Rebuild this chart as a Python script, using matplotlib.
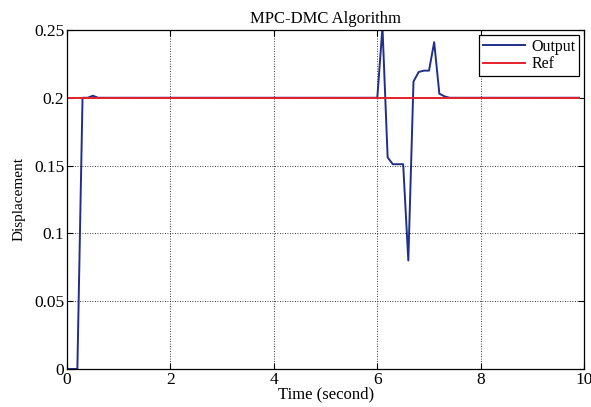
import numpy as np
import matplotlib
matplotlib.use("Agg")
import matplotlib.pyplot as plt

# step response of the MPC-DMC controller, with a disturbance around t = 6 s
t_out = [0.0, 0.2, 0.3, 0.4, 0.5, 0.6, 6.0, 6.1, 6.2, 6.3, 6.4, 6.5, 6.6,
         6.7, 6.8, 6.9, 7.0, 7.1, 7.2, 7.3, 7.4, 9.9]
y_out = [0.0, 0.0, 0.2, 0.2, 0.2015, 0.2, 0.2, 0.252, 0.156, 0.151, 0.151,
         0.151, 0.080, 0.212, 0.219, 0.220, 0.220, 0.241, 0.203, 0.201,
         0.2, 0.2]
t_ref = [0.0, 9.9]
y_ref = [0.2, 0.2]

x_ticks = [0, 2, 4, 6, 8, 10]
y_ticks = [0, 0.05, 0.1, 0.15, 0.2, 0.25]
y_tick_labels = ["0", "0.05", "0.1", "0.15", "0.2", "0.25"]

plt.rcParams["font.family"] = ["Liberation Serif", "DejaVu Serif"]

fig = plt.figure(figsize=(5.91, 4.07), dpi=100)
ax = fig.add_axes([0.1134, 0.0934, 0.875, 0.833])

ax.plot(t_out, y_out, color="#1f2f8a", linewidth=1.4, label="Output")
ax.plot(t_ref, y_ref, color="#e8202a", linewidth=1.4, label="Ref")

ax.set_xlim(0, 10)
ax.set_ylim(0, 0.25)
ax.set_xticks(x_ticks)
ax.set_yticks(y_ticks)
ax.set_yticklabels(y_tick_labels)
ax.tick_params(direction="in", top=True, right=True, labelsize=12.5,
               length=4, pad=2)
ax.grid(True, color="black", linestyle=(0, (1, 2)), linewidth=0.6)
for s in ax.spines.values():
    s.set_linewidth(0.9)

ax.set_title("MPC-DMC Algorithm", fontsize=12, pad=5)
ax.set_xlabel("Time (second)", fontsize=12, labelpad=-1)
ax.set_ylabel("Displacement", fontsize=11, labelpad=6)

leg = ax.legend(loc="upper right", fontsize=11.5, fancybox=False,
                framealpha=1, edgecolor="black", borderaxespad=0.3,
                handlelength=2.6, handletextpad=0.4, borderpad=0.25,
                labelspacing=0.1)
leg.get_frame().set_linewidth(0.9)

fig.savefig("out.png", dpi=100)
